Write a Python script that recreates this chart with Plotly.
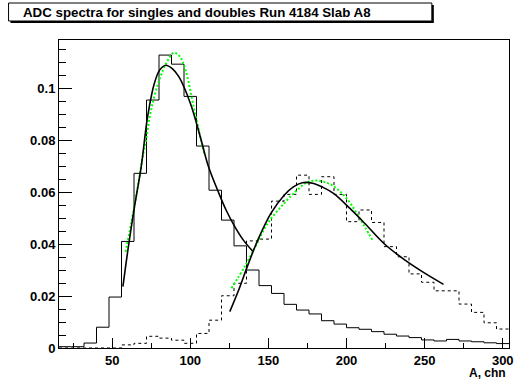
import plotly.graph_objects as go

# ---------------- data ----------------
bin_edges = list(range(16, 305, 8))  # 36 bins, width 8

singles = [0.0005, 0.0005, 0.0019, 0.0080, 0.0196, 0.0410, 0.0672, 0.0954,
           0.1127, 0.1092, 0.0968, 0.0777, 0.0607, 0.0492, 0.0393, 0.0300,
           0.0240, 0.0210, 0.0168, 0.0146, 0.0131, 0.0105, 0.0092, 0.0078,
           0.0072, 0.0063, 0.0053, 0.0046, 0.0040, 0.0031, 0.0027, 0.0033,
           0.0027, 0.0024, 0.0020, 0.0017]

doubles = [0.0, 0.0, 0.0, 0.0, 0.0, 0.0012, 0.0018, 0.0045,
           0.0038, 0.0030, 0.0018, 0.0056, 0.0107, 0.0201, 0.0249, 0.0412,
           0.0419, 0.0565, 0.0591, 0.0665, 0.0591, 0.0659, 0.0591, 0.0486,
           0.0531, 0.0483, 0.0390, 0.0351, 0.0285, 0.0253, 0.0220, 0.0220,
           0.0169, 0.0137, 0.0097, 0.0073]

fit1_x = [56.9, 60.1, 64.3, 68.6, 72.7, 77.0, 80.5, 84.3, 88.5, 92.7, 100.1,
          106.4, 111.7, 118.0, 123.0, 128.5, 134.0, 140.0]
fit1_y = [0.0236, 0.0377, 0.0543, 0.0697, 0.0890, 0.1018, 0.1070, 0.1088,
          0.1075, 0.1044, 0.0941, 0.0813, 0.0697, 0.0600, 0.0530, 0.0467,
          0.0415, 0.0372]

fit2_x = [125.3, 131.0, 136.5, 143.2, 151.6, 160.1, 166.0, 171.7, 179.0, 185.0,
          191.7, 202.2, 211.6, 224.3, 235.9, 248.5, 262.1]
fit2_y = [0.0140, 0.0223, 0.0313, 0.0415, 0.0518, 0.0588, 0.0620, 0.0636,
          0.0633, 0.0618, 0.0595, 0.0537, 0.0480, 0.0400, 0.0345, 0.0294,
          0.0245]

gaus1_x = [58.6, 62.2, 66.4, 69.2, 71.7, 74.9, 80.1, 85.0, 89.6, 93.5, 97.0,
           102.2, 106.4, 109.2]
gaus1_y = [0.0370, 0.0480, 0.0620, 0.0723, 0.0800, 0.0915, 0.1030, 0.1100,
           0.1136, 0.1120, 0.1069, 0.0928, 0.0813, 0.0742]

gaus2_x = [126.4, 134.8, 142.2, 149.6, 160.1, 168.5, 175.0, 181.1, 190.6,
           200.0, 211.6, 216.9]
gaus2_y = [0.0230, 0.0313, 0.0396, 0.0480, 0.0557, 0.0608, 0.0638, 0.0644,
           0.0627, 0.0576, 0.0467, 0.0412]

title_text = "ADC spectra for singles and doubles Run 4184 Slab A8"
x_title = "A, chn"

# ---------------- figure ----------------
W, H = 519, 380
L, R, T, B = 59, 5, 40, 32
pw, ph = W - L - R, H - T - B


def px(xp):
    return (xp - L) / pw


def py(yp):
    return (H - B - yp) / ph


FONT = "Liberation Sans, Arial, sans-serif"

fig = go.Figure()

fig.add_trace(go.Scatter(
    x=bin_edges, y=singles + [singles[-1]], mode="lines", line_shape="hv",
    line=dict(color="black", width=1), hoverinfo="skip"))
fig.add_trace(go.Scatter(
    x=bin_edges, y=doubles + [doubles[-1]], mode="lines", line_shape="hv",
    line=dict(color="black", width=1, dash="3px,3px"), hoverinfo="skip"))
fig.add_trace(go.Scatter(
    x=gaus1_x, y=gaus1_y, mode="lines", line_shape="spline",
    line=dict(color="#00ff00", width=2, dash="2px,2px")))
fig.add_trace(go.Scatter(
    x=gaus2_x, y=gaus2_y, mode="lines", line_shape="spline",
    line=dict(color="#00ff00", width=2, dash="2px,2px")))
fig.add_trace(go.Scatter(
    x=fit1_x, y=fit1_y, mode="lines", line_shape="spline",
    line=dict(color="black", width=1.6)))
fig.add_trace(go.Scatter(
    x=fit2_x, y=fit2_y, mode="lines", line_shape="spline",
    line=dict(color="black", width=1.6)))

tickfont = dict(family=FONT, size=13, color="black", weight="bold")

fig.update_xaxes(
    range=[16, 304], showgrid=False, zeroline=False,
    showline=True, linecolor="black", linewidth=1, mirror=True,
    ticks="inside", ticklen=10, tickcolor="black", tickwidth=1,
    tick0=0, dtick=50, tickfont=tickfont,
    minor=dict(ticks="inside", ticklen=5, dtick=25, tick0=0,
               tickcolor="black", tickwidth=1, showgrid=False))
fig.update_yaxes(
    range=[0, 0.1185], showgrid=False, zeroline=False,
    showline=True, linecolor="black", linewidth=1, mirror=True,
    ticks="inside", ticklen=13, tickcolor="black", tickwidth=1,
    tick0=0, dtick=0.02, tickfont=tickfont,
    minor=dict(ticks="inside", ticklen=7, dtick=0.005, tick0=0,
               tickcolor="black", tickwidth=1, showgrid=False))

# title box with shadow
bx0, by0, bx1, by1 = 8, 3, 436, 21
fig.add_shape(type="rect", xref="paper", yref="paper",
              x0=px(bx0 + 2), x1=px(bx1 + 2), y0=py(by0 + 2), y1=py(by1 + 2),
              fillcolor="black", line=dict(width=0), layer="above")
fig.add_shape(type="rect", xref="paper", yref="paper",
              x0=px(bx0), x1=px(bx1), y0=py(by0), y1=py(by1),
              fillcolor="white", line=dict(color="black", width=1), layer="above")
fig.add_annotation(xref="paper", yref="paper", x=px(20.5), y=py(12.5),
                   xanchor="left", yanchor="middle", showarrow=False,
                   text=title_text,
                   font=dict(family=FONT, size=13.3, color="black", weight="bold"))
fig.add_annotation(xref="paper", yref="paper", x=px(513), y=py(373),
                   xanchor="right", yanchor="middle", showarrow=False,
                   text=x_title,
                   font=dict(family=FONT, size=12, color="black", weight="bold"))

fig.update_layout(
    width=W, height=H, showlegend=False,
    margin=dict(l=L, r=R, t=T, b=B, pad=0),
    paper_bgcolor="white", plot_bgcolor="white",
)

fig.write_html("out.html")
